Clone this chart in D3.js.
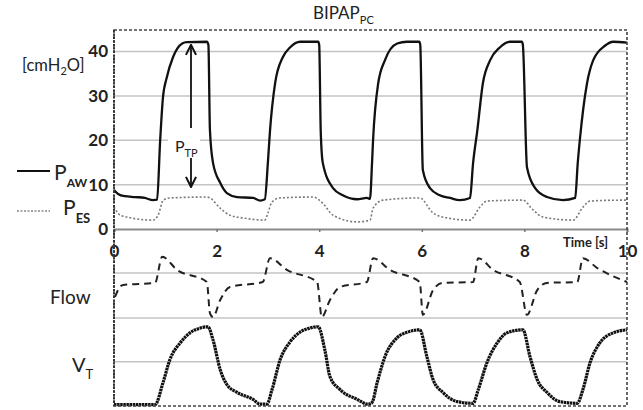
<!DOCTYPE html>
<html>
<head>
<meta charset="utf-8">
<script src="https://cdn.jsdelivr.net/npm/d3@7"></script>
<style>
  body { margin: 0; background: #fff; }
  svg { font-family: Lato, "Open Sans", sans-serif; }
</style>
</head>
<body>
<svg width="643" height="410"></svg>
<script>
// time [s], value pairs
const paw = [[0,8.8],[0.08,7.9],[0.21,7.4],[0.41,7.2],[0.6,7.0],[0.76,6.5],[0.84,6.6],[0.9,20],[0.955,29.7],[1.03,34.2],[1.15,38.7],[1.33,41.8],[1.42,42.1],[1.81,42.2],[1.84,41.5],
  [1.87,22.3],[1.93,14.9],[2.07,10.4],[2.2,8.1],[2.4,7.2],[2.71,7.0],[2.85,6.4],[2.94,6.7],[3.0,15],[3.04,22],[3.14,32.8],[3.29,38.7],[3.43,40.9],[3.63,42.2],[3.98,42.2],[4.0,41.5],
  [4.03,22],[4.07,14.9],[4.27,9.2],[4.46,7.6],[4.74,6.7],[4.93,7.0],[4.99,6.8],[5.03,14.9],[5.05,20],[5.15,32.8],[5.28,38],[5.52,41.8],[5.71,42.2],[5.95,42.2],[5.97,41.5],
  [6.02,13.3],[6.16,9.2],[6.35,7.6],[6.55,7.0],[6.74,6.5],[6.94,7.0],[7.0,14.9],[7.08,22],[7.19,32.8],[7.33,38],[7.52,40.9],[7.72,42.2],[7.95,42.2],[7.97,41.5],
  [8.05,13.9],[8.21,9.2],[8.44,7.2],[8.75,6.5],[8.99,7.0],[9.04,14.9],[9.08,20],[9.22,32.8],[9.34,38],[9.57,41.3],[9.73,42.2],[10,42]];
const pes = [[0,5.0],[0.12,3.1],[0.25,2.7],[0.76,2.0],[0.86,3.1],[0.96,6.5],[1.09,7.0],[1.81,7.2],[1.87,7.0],[2.07,4.7],[2.26,3.1],[2.51,2.5],[2.94,2.0],[3.0,3.6],[3.08,6.1],[3.24,7.0],
  [3.88,7.2],[4.07,5.8],[4.27,3.1],[4.74,1.6],[4.99,2.0],[5.05,4.7],[5.24,6.5],[5.96,7.0],[6.22,3.6],[6.49,2.5],[6.94,2.0],[7.13,4.9],[7.27,6.3],[7.97,6.5],[8.17,4.3],[8.36,2.7],
  [8.95,2.0],[9.14,4.9],[9.28,6.3],[9.92,6.5],[10,6.5]];
const flow = [[0.02,0.47],[0.16,0.73],[0.8,0.78],[0.94,1.36],[1.23,1.07],[1.81,0.8],[1.87,0.11],[1.93,0.02],[2.07,0.4],[2.26,0.69],[2.9,0.8],[3.04,1.33],[3.37,1.07],[3.96,0.8],
  [4.05,0.02],[4.21,0.4],[4.41,0.69],[4.93,0.8],[5.05,1.33],[5.38,1.07],[5.96,0.8],[6.02,0.07],[6.22,0.62],[6.41,0.78],[7.0,0.8],[7.1,1.33],[7.39,1.07],[7.91,0.8],
  [8.05,0.07],[8.25,0.62],[8.44,0.78],[9.03,0.8],[9.14,1.33],[9.42,1.11],[10,0.8]];
const vt = [[0,0.02],[0.8,0.02],[0.955,0.52],[1.09,1.05],[1.29,1.43],[1.48,1.66],[1.68,1.77],[1.83,1.8],[1.93,1.5],[2.07,0.82],[2.2,0.48],[2.4,0.3],[2.71,0.14],[2.85,0.03],[2.98,0.03],
  [3.08,0.36],[3.24,1.05],[3.43,1.45],[3.63,1.68],[3.82,1.77],[3.98,1.8],[4.11,1.27],[4.21,0.66],[4.41,0.36],[4.74,0.14],[4.95,0.03],[5.03,0.07],[5.13,0.52],[5.28,1.11],
  [5.52,1.55],[5.73,1.68],[5.96,1.73],[6.1,1.11],[6.22,0.59],[6.41,0.3],[6.69,0.09],[7.0,0.05],[7.1,0.36],[7.27,0.98],[7.47,1.43],[7.66,1.66],[7.97,1.73],[8.11,1.11],
  [8.25,0.59],[8.44,0.3],[8.69,0.09],[9.03,0.05],[9.14,0.36],[9.28,0.98],[9.47,1.43],[9.73,1.66],[10,1.73]];
const pTicks = [0, 10, 20, 30, 40];
const tTicks = [0, 2, 4, 6, 8, 10];
const flowGrid = [0, 1];
const vtGrid = [1];

const svg = d3.select('svg');
const x = d3.scaleLinear().domain([0, 10]).range([114, 627]);
const yP = d3.scaleLinear().domain([0, 40]).range([229, 51.5]);
const yF = d3.scaleLinear().domain([0, 1]).range([318, 273]);
const yV = d3.scaleLinear().domain([0, 2]).range([405.5, 318]);

// grid lines
const grid = svg.append('g').attr('stroke', '#c4c4c4').attr('stroke-width', 1.5);
pTicks.filter(d => d > 0).forEach(d => {
  grid.append('line').attr('x1', x(0)).attr('x2', x(10)).attr('y1', yP(d)).attr('y2', yP(d));
});
flowGrid.forEach(d => {
  grid.append('line').attr('x1', x(0)).attr('x2', x(10)).attr('y1', yF(d)).attr('y2', yF(d));
});
vtGrid.forEach(d => {
  grid.append('line').attr('x1', x(0)).attr('x2', x(10)).attr('y1', yV(d)).attr('y2', yV(d));
});

// time axis at P = 0
const xAxis = svg.append('g')
  .attr('transform', `translate(0,${yP(0)})`)
  .call(d3.axisBottom(x).tickValues(tTicks).tickSize(3).tickPadding(13));
xAxis.select('.domain').attr('stroke', '#8a8a8a').attr('stroke-width', 2);
xAxis.selectAll('.tick line').attr('stroke', '#777').attr('stroke-width', 1.5);
xAxis.selectAll('.tick text').attr('font-size', 17).attr('font-weight', 'bold').attr('fill', '#222')
  .attr('font-family', 'Lato, sans-serif');

// pressure axis labels
const yAxis = svg.append('g')
  .attr('transform', `translate(${x(0)},0)`)
  .call(d3.axisLeft(yP).tickValues(pTicks).tickSize(0).tickPadding(6));
yAxis.select('.domain').remove();
yAxis.selectAll('.tick text').attr('font-size', 17).attr('font-weight', 'bold').attr('fill', '#222')
  .attr('font-family', 'Lato, sans-serif');

const line = (ys) => d3.line().x(d => x(d[0])).y(d => ys(d[1])).curve(d3.curveMonotoneX);

svg.append('path').datum(pes).attr('fill', 'none').attr('stroke', '#7a7a7a')
  .attr('stroke-width', 1.6).attr('stroke-dasharray', '2,2').attr('d', line(yP));
svg.append('path').datum(paw).attr('fill', 'none').attr('stroke', '#111')
  .attr('stroke-width', 2.3).attr('stroke-linejoin', 'round').attr('d', line(yP));
svg.append('path').datum(flow).attr('fill', 'none').attr('stroke', '#222')
  .attr('stroke-width', 2).attr('stroke-dasharray', '7,5').attr('d', line(yF));
svg.append('path').datum(vt).attr('fill', 'none').attr('stroke', '#111')
  .attr('stroke-width', 3.2).attr('stroke-dasharray', '2.5,0.6').attr('d', line(yV));

// frame
svg.append('rect').attr('x', x(0)).attr('y', 30).attr('width', x(10) - x(0)).attr('height', 376)
  .attr('fill', 'none').attr('stroke', '#444').attr('stroke-width', 1.6).attr('stroke-dasharray', '3,2');
svg.append('line').attr('x1', x(0)).attr('x2', x(0)).attr('y1', 30).attr('y2', 406)
  .attr('stroke', '#333').attr('stroke-width', 2).attr('stroke-dasharray', '2,1.5');

// title
const title = svg.append('text').attr('x', 313).attr('y', 19).attr('font-size', 17).attr('fill', '#222');
title.append('tspan').text('BIPAP');
title.append('tspan').attr('dy', 5).attr('font-size', 11).text('PC');

// unit label
const unit = svg.append('text').attr('x', 22).attr('y', 71).attr('font-size', 16.5).attr('fill', '#222');
unit.append('tspan').text('[cmH');
unit.append('tspan').attr('dy', 4).attr('font-size', 11).text('2');
unit.append('tspan').attr('dy', -4).text('O]');

// legend
svg.append('line').attr('x1', 17).attr('x2', 50).attr('y1', 171).attr('y2', 171)
  .attr('stroke', '#111').attr('stroke-width', 2);
const lAw = svg.append('text').attr('x', 54).attr('y', 180).attr('font-size', 21).attr('fill', '#222');
lAw.append('tspan').text('P');
lAw.append('tspan').attr('dy', 7).attr('font-size', 12).attr('font-weight', 'bold').text('AW');
svg.append('line').attr('x1', 17).attr('x2', 50).attr('y1', 211).attr('y2', 211)
  .attr('stroke', '#888').attr('stroke-width', 1.5).attr('stroke-dasharray', '2,1.5');
const lEs = svg.append('text').attr('x', 63).attr('y', 215).attr('font-size', 21).attr('fill', '#222');
lEs.append('tspan').text('P');
lEs.append('tspan').attr('dy', 8).attr('font-size', 13).attr('font-weight', 'bold').text('ES');

// time label
svg.append('text').attr('x', 563).attr('y', 247).attr('font-size', 13).attr('font-weight', 'bold')
  .attr('fill', '#222').text('Time [s]');

// lower panel labels
svg.append('text').attr('x', 50).attr('y', 304).attr('font-size', 19).attr('fill', '#222').text('Flow');
const lVt = svg.append('text').attr('x', 72).attr('y', 372).attr('font-size', 20).attr('fill', '#222');
lVt.append('tspan').text('V');
lVt.append('tspan').attr('dy', 7).attr('font-size', 13).text('T');

// transpulmonary pressure arrow
const ax = 191;
svg.append('defs').append('marker').attr('id', 'ah').attr('viewBox', '0 0 10 10')
  .attr('refX', 9).attr('refY', 5).attr('markerWidth', 7).attr('markerHeight', 7)
  .attr('orient', 'auto-start-reverse')
  .append('path').attr('d', 'M1,1 L9,5 L1,9').attr('fill', 'none').attr('stroke', '#111').attr('stroke-width', 1.6);
svg.append('rect').attr('x', 168).attr('y', 133).attr('width', 32).attr('height', 24).attr('fill', '#fff');
svg.append('line').attr('x1', ax).attr('x2', ax).attr('y1', 128).attr('y2', yP(41.5))
  .attr('stroke', '#111').attr('stroke-width', 1.8).attr('marker-end', 'url(#ah)');
svg.append('line').attr('x1', ax).attr('x2', ax).attr('y1', 158).attr('y2', 187)
  .attr('stroke', '#111').attr('stroke-width', 1.8).attr('marker-end', 'url(#ah)');
const ptp = svg.append('text').attr('x', 175).attr('y', 152).attr('font-size', 16).attr('fill', '#222');
ptp.append('tspan').text('P');
ptp.append('tspan').attr('dy', 5).attr('font-size', 11).text('TP');
</script>
</body>
</html>
